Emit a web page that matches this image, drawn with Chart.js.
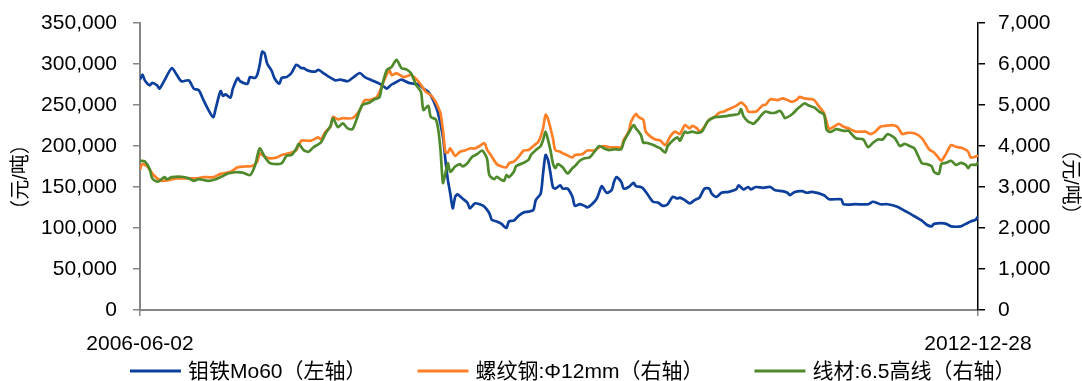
<!DOCTYPE html>
<html>
<head>
<meta charset="utf-8">
<script src="https://cdn.jsdelivr.net/npm/chart.js@4.4.1/dist/chart.umd.min.js"></script>
<style>
  html, body { margin: 0; padding: 0; background: #ffffff; }
  canvas { display: block; }
</style>
</head>
<body>
<canvas id="chart" width="1082" height="381"></canvas>
<script>
// Weekly prices, keyed by week offset from the first date.
const startDate = '2006-06-02';
const xTickWeeks = [0, 343];

// 钼铁Mo60, 元/吨 (left axis): [week, price]
const moSeries = [
  [0,281000],[1,287000],[2,280000],[4,274000],[5,277000],[7,274000],[8,270000],[10,280000],[13,295000],[15,287000],
  [17,279000],[20,280000],[22,270000],[24,268000],[26,256000],[28,244000],[30,235000],[31,246000],[33,267000],[34,261000],
  [35,263000],[37,259000],[38,270000],[40,283000],[41,279000],[44,276000],[45,284000],[47,283000],[48,287000],[49,299000],
  [50,315000],[51,313000],[52,301000],[54,291000],[55,283000],[57,276000],[58,283000],[60,284000],[62,289000],[64,299000],
  [66,295000],[67,295000],[68,293000],[70,291000],[72,291000],[73,293000],[75,289000],[77,285000],[80,280000],[82,281000],
  [85,279000],[87,283000],[90,289000],[92,284000],[95,280000],[98,276000],[100,272000],[101,270000],[103,275000],[105,278000],
  [107,281000],[110,277000],[112,276000],[114,275000],[116,270000],[118,266000],[120,256000],[122,240000],[124,211000],[125,183000],
  [126,159000],[127,142000],[128,124000],[129,138000],[130,141000],[132,136000],[134,131000],[135,124000],[137,130000],[139,129000],
  [141,126000],[143,118000],[144,110000],[146,108000],[148,105000],[149,102000],[150,100000],[151,108000],[153,109000],[155,115000],
  [157,119000],[159,120000],[161,122000],[162,134000],[164,142000],[165,167000],[166,189000],[167,183000],[168,167000],[169,150000],
  [170,148000],[172,152000],[173,148000],[175,148000],[177,138000],[178,127000],[180,129000],[182,127000],[183,125000],[185,129000],
  [187,136000],[188,144000],[189,151000],[191,143000],[193,146000],[194,156000],[195,162000],[197,156000],[198,148000],[200,150000],
  [202,155000],[203,151000],[205,150000],[206,148000],[208,140000],[210,132000],[212,131000],[214,127000],[216,129000],[218,138000],
  [220,136000],[221,137000],[223,134000],[225,130000],[227,134000],[229,137000],[231,148000],[233,148000],[234,142000],[236,138000],
  [238,143000],[241,144000],[244,147000],[245,152000],[247,147000],[249,150000],[250,147000],[252,150000],[255,149000],[258,150000],
  [260,146000],[263,145000],[265,143000],[266,140000],[268,144000],[271,145000],[273,143000],[275,144000],[280,140000],[282,135000],
  [287,135000],[288,129000],[293,129000],[298,129000],[300,132000],[303,129000],[306,129000],[310,126000],[313,121000],[316,116000],
  [320,109000],[322,104000],[324,102000],[325,105000],[328,106000],[330,105000],[332,102000],[336,102000],[338,105000],[340,108000],
  [342,110000],[343,114000]
];

// 螺纹钢:Φ12mm, 元/吨 (right axis): [week, price]
const rebarSeries = [
  [0,3430],[1,3560],[3,3500],[5,3330],[7,3210],[9,3150],[12,3170],[15,3210],[19,3210],[23,3210],
  [26,3240],[30,3240],[33,3320],[37,3370],[40,3480],[43,3500],[46,3510],[48,3620],[49,3820],[51,3740],
  [53,3700],[56,3720],[58,3780],[62,3840],[64,3900],[66,4130],[68,4130],[70,4130],[73,4210],[74,4160],
  [76,4350],[78,4470],[79,4710],[81,4650],[83,4680],[87,4680],[90,4880],[92,5120],[94,5120],[97,5200],
  [100,5610],[102,5850],[103,5730],[105,5770],[108,5680],[111,5730],[114,5570],[117,5320],[119,5240],[121,5080],
  [122,4950],[123,4800],[124,4390],[125,3850],[126,3840],[127,3940],[129,3760],[131,3860],[133,3890],[135,3940],
  [137,3940],[139,4000],[141,4070],[142,3920],[144,3740],[146,3560],[148,3500],[150,3480],[151,3580],[153,3620],
  [155,3740],[157,3890],[159,3900],[161,4000],[163,4100],[164,4230],[165,4440],[166,4760],[167,4660],[169,4190],
  [170,3900],[172,3860],[173,3820],[174,3800],[177,3720],[178,3780],[181,3800],[183,3890],[186,3890],[188,3970],
  [190,4000],[192,3970],[195,3970],[197,3970],[198,4150],[200,4350],[201,4590],[203,4780],[204,4710],[206,4640],
  [207,4350],[209,4230],[211,4160],[213,4130],[215,4020],[217,4230],[219,4350],[221,4290],[223,4510],[225,4430],
  [226,4490],[228,4430],[229,4350],[231,4470],[233,4650],[235,4700],[237,4810],[239,4840],[241,4900],[244,4980],
  [246,5060],[248,4960],[249,4840],[252,4840],[253,4880],[255,5000],[256,5000],[258,5140],[261,5120],[263,5160],
  [265,5120],[267,5080],[269,5140],[270,5200],[272,5160],[275,5140],[276,5120],[278,4960],[280,4800],[282,4420],
  [284,4470],[286,4540],[288,4470],[290,4430],[293,4350],[297,4350],[299,4290],[301,4350],[303,4470],[305,4490],
  [308,4510],[310,4470],[312,4290],[314,4320],[317,4310],[320,4190],[323,3920],[325,3840],[327,3700],[328,3640],
  [330,3820],[332,4020],[334,3980],[337,3940],[339,3860],[340,3720],[342,3740],[343,3760]
];

// 线材:6.5高线, 元/吨 (right axis): [week, price]
const wireSeries = [
  [0,3640],[2,3620],[4,3430],[5,3210],[7,3130],[8,3150],[10,3240],[11,3190],[13,3240],[17,3250],
  [20,3210],[22,3150],[24,3190],[28,3150],[31,3190],[34,3270],[36,3330],[39,3360],[42,3350],[45,3290],
  [47,3510],[49,3940],[51,3740],[53,3590],[56,3560],[58,3580],[60,3760],[62,3780],[64,3940],[65,4050],
  [67,3900],[69,3860],[71,3970],[74,4080],[76,4310],[78,4490],[79,4680],[81,4460],[83,4550],[85,4430],
  [87,4410],[89,4710],[91,5000],[94,5060],[96,5140],[98,5190],[99,5450],[101,5850],[103,5930],[105,6100],
  [107,5900],[109,5870],[111,5770],[113,5490],[115,5320],[116,4880],[118,4980],[119,4710],[121,4650],[122,4430],
  [123,3900],[124,3100],[125,3330],[126,3580],[127,3370],[129,3500],[131,3560],[132,3500],[134,3580],[136,3740],
  [138,3800],[140,3890],[142,3700],[143,3290],[145,3190],[146,3250],[148,3170],[149,3150],[150,3290],[151,3240],
  [153,3370],[154,3510],[157,3590],[159,3660],[160,3780],[162,3900],[164,4000],[165,4150],[166,4350],[167,4150],
  [168,3900],[169,3580],[170,3460],[171,3560],[173,3480],[175,3330],[177,3460],[178,3510],[180,3640],[182,3700],
  [184,3720],[186,3860],[188,4000],[190,3940],[192,3900],[194,3920],[197,3920],[198,4100],[200,4320],[202,4510],
  [203,4430],[205,4270],[206,4080],[207,4080],[209,4050],[211,4000],[213,3940],[215,3840],[216,4000],[218,4130],
  [220,4210],[221,4130],[223,4350],[224,4320],[226,4350],[228,4320],[230,4350],[232,4570],[233,4630],[235,4700],
  [237,4710],[240,4730],[243,4760],[245,4780],[246,4900],[247,4730],[249,4590],[250,4570],[251,4540],[253,4650],
  [254,4730],[256,4840],[258,4810],[260,4810],[262,4860],[263,4780],[264,4680],[267,4780],[269,4900],[271,5000],
  [272,5040],[274,4980],[276,4940],[278,4840],[280,4760],[281,4400],[282,4350],[283,4350],[285,4410],[288,4370],
  [290,4370],[291,4310],[293,4190],[296,4160],[298,3970],[300,4080],[302,4160],[304,4160],[306,4290],[309,4190],
  [311,4000],[313,4050],[315,4000],[317,3940],[320,3580],[322,3560],[324,3510],[325,3370],[327,3320],[328,3560],
  [330,3590],[332,3640],[334,3540],[336,3590],[338,3540],[339,3460],[340,3540],[342,3540],[343,3590]
];

const seriesNames = ['钼铁Mo60（左轴）', '螺纹钢:Φ12mm（右轴）', '线材:6.5高线（右轴）'];
const seriesColors = ['#0D3F9C', '#FF7F27', '#4E8A2C'];
const axisUnit = '（元/吨）';

const FONT = '"Liberation Sans", Arial, "Noto Sans CJK SC", sans-serif';

function weekToDate(w) {
  const [y, m, d] = startDate.split('-').map(Number);
  const t = new Date(Date.UTC(y, m - 1, d) + w * 7 * 86400000);
  const pad = n => String(n).padStart(2, '0');
  return t.getUTCFullYear() + '-' + pad(t.getUTCMonth() + 1) + '-' + pad(t.getUTCDate());
}

const toPoints = s => s.map(([w, v]) => ({ x: w, y: v }));

// Legend drawn as short line swatches followed by the series name.
const lineLegend = {
  id: 'lineLegend',
  afterDraw(chart) {
    const ctx = chart.ctx;
    ctx.save();
    ctx.font = '21px ' + FONT;
    ctx.textBaseline = 'middle';
    ctx.textAlign = 'left';
    let x = 130;
    const y = 371;
    chart.data.datasets.forEach(ds => {
      ctx.strokeStyle = ds.borderColor;
      ctx.lineWidth = 3;
      ctx.beginPath();
      ctx.moveTo(x, y);
      ctx.lineTo(x + 51, y);
      ctx.stroke();
      ctx.fillStyle = '#000';
      ctx.fillText(ds.label, x + 58, y + 1);
      x += 58 + ctx.measureText(ds.label).width + 51;
    });
    ctx.restore();
  }
};

// Rotated unit captions beside both value axes.
const unitTitles = {
  id: 'unitTitles',
  afterDraw(chart) {
    const ctx = chart.ctx;
    ctx.save();
    ctx.font = '20px ' + FONT;
    ctx.fillStyle = '#000';
    ctx.textAlign = 'center';
    ctx.textBaseline = 'middle';
    ctx.translate(21, 177);
    ctx.rotate(-Math.PI / 2);
    ctx.fillText(axisUnit, 0, 0);
    ctx.restore();
    ctx.save();
    ctx.font = '20px ' + FONT;
    ctx.fillStyle = '#000';
    ctx.textAlign = 'center';
    ctx.textBaseline = 'middle';
    ctx.translate(1070, 182);
    ctx.rotate(Math.PI / 2);
    ctx.fillText(axisUnit, 0, 0);
    ctx.restore();
  }
};

const tickFont = { family: FONT, size: 21 };

// Fixed axis widths; label overflow above/below the plot is left to the layout padding.
const fitValueAxis = width => s => {
  s.width = width;
  s.paddingTop = 0;
  s.paddingBottom = 0;
};

new Chart(document.getElementById('chart'), {
  type: 'line',
  data: {
    datasets: [
      { label: seriesNames[0], data: toPoints(moSeries), yAxisID: 'y', borderColor: seriesColors[0], order: 3 },
      { label: seriesNames[1], data: toPoints(rebarSeries), yAxisID: 'y1', borderColor: seriesColors[1], order: 2 },
      { label: seriesNames[2], data: toPoints(wireSeries), yAxisID: 'y1', borderColor: seriesColors[2], order: 1 }
    ]
  },
  options: {
    responsive: false,
    animation: false,
    layout: { padding: { top: 23, bottom: 31, left: 0, right: 0 } },
    elements: {
      line: { borderWidth: 2.7, tension: 0.25, fill: false },
      point: { radius: 0, hoverRadius: 0 }
    },
    plugins: { legend: { display: false }, tooltip: { enabled: false } },
    scales: {
      x: {
        type: 'linear',
        min: xTickWeeks[0],
        max: xTickWeeks[1],
        afterBuildTicks: s => { s.ticks = xTickWeeks.map(v => ({ value: v })); },
        afterFit: s => { s.height = 40; },
        ticks: { autoSkip: false, maxRotation: 0, padding: 16, font: tickFont, color: '#000', callback: v => weekToDate(v) },
        grid: { drawOnChartArea: false, tickLength: 6, color: '#868686', lineWidth: 1.5 },
        border: { color: '#868686', width: 2 }
      },
      y: {
        position: 'left',
        min: 0,
        max: 350000,
        afterFit: fitValueAxis(140),
        ticks: { stepSize: 50000, padding: 16, font: tickFont, color: '#000', callback: v => v.toLocaleString('en-US') },
        grid: { drawOnChartArea: false, tickLength: 7, color: '#868686', lineWidth: 1.5 },
        border: { color: '#868686', width: 2 }
      },
      y1: {
        position: 'right',
        min: 0,
        max: 7000,
        afterFit: fitValueAxis(104),
        ticks: { stepSize: 1000, padding: 13, font: tickFont, color: '#000', callback: v => v.toLocaleString('en-US') },
        grid: { drawOnChartArea: false, tickLength: 7, color: '#000', lineWidth: 1.5 },
        border: { color: '#000', width: 1.5 }
      }
    }
  },
  plugins: [lineLegend, unitTitles]
});
</script>
</body>
</html>
